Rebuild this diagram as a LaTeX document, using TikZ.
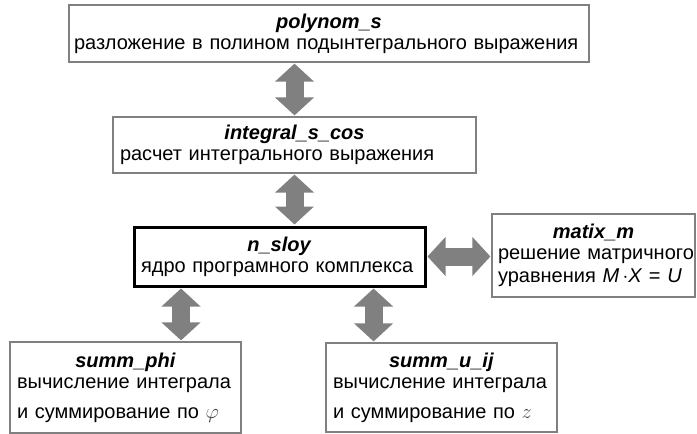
\documentclass[tikz,border=0pt]{standalone}
\usepackage{fontspec}
\setmainfont{Liberation Sans}
\usetikzlibrary{arrows.meta}
\usetikzlibrary{calc}
\newcommand\ttl[1]{{\centering\textbf{\textit{#1}}\par}}
\tikzset{
  blok/.style={draw=black!50,line width=1.2pt,fill=white,inner xsep=7pt,inner ysep=0pt,align=left,font=\fontsize{20}{21}\selectfont},
  jadro/.style={blok,draw=black,line width=3pt},
  strelka/.style={draw=black!50,line width=18pt,{Triangle[width=38pt,length=18pt]}-{Triangle[width=38pt,length=18pt]},shorten <=1pt,shorten >=1pt}
}
\begin{document}
\begin{tikzpicture}[x=1pt,y=-1pt]
			\useasboundingbox(0,0)rectangle(697,434);
			\node[blok,inner xsep=5pt,text width=510pt,minimum height=57pt](polynom)at(329,33.5){\ttl{polynom\_s}разложение в полином подынтегрального выражения};
			\node[blok,text width=349pt,minimum height=56pt](integral)at(294.5,145){\ttl{integral\_s\_cos}расчет интегрального выражения};
			\node[jadro,text width=277pt,minimum height=59pt](nsloy)at(279.5,256.5){\ttl{n\_sloy}ядро програмного комплекса};
			\node[blok,inner xsep=6pt,text width=191pt,minimum height=83pt](matix)at(593.5,255.5){\ttl{matix\_m}решение~матричного\\[2pt]уравнения \textit{M}\,$\cdot$\textit{X} = \textit{U}};
			\node[blok,text width=217pt,minimum height=91pt](summphi)at(125.5,387.5){\ttl{summ\_phi}вычисление интеграла\\[9pt]и суммирование по {\color{black!70}$\varphi$}};
			\node[blok,text width=217pt,minimum height=89pt](summuij)at(441.5,387.5){\ttl{summ\_u\_ij}вычисление интеграла\\[9pt]и суммирование по {\color{black!70}$z$}};
			\coordinate(phiv)at($(nsloy.south west)!.165!(nsloy.south east)$);
			\coordinate(uijv)at($(nsloy.south west)!.82!(nsloy.south east)$);
			\draw[strelka](polynom.south-|integral.north)--(integral.north);
			\draw[strelka](integral.south)--(integral.south|-nsloy.north);
			\draw[strelka](nsloy.east)--(nsloy.east-|matix.west);
			\draw[strelka](phiv)--(phiv|-summphi.north);
			\draw[strelka](uijv)--(uijv|-summuij.north);
		\end{tikzpicture}
\end{document}
